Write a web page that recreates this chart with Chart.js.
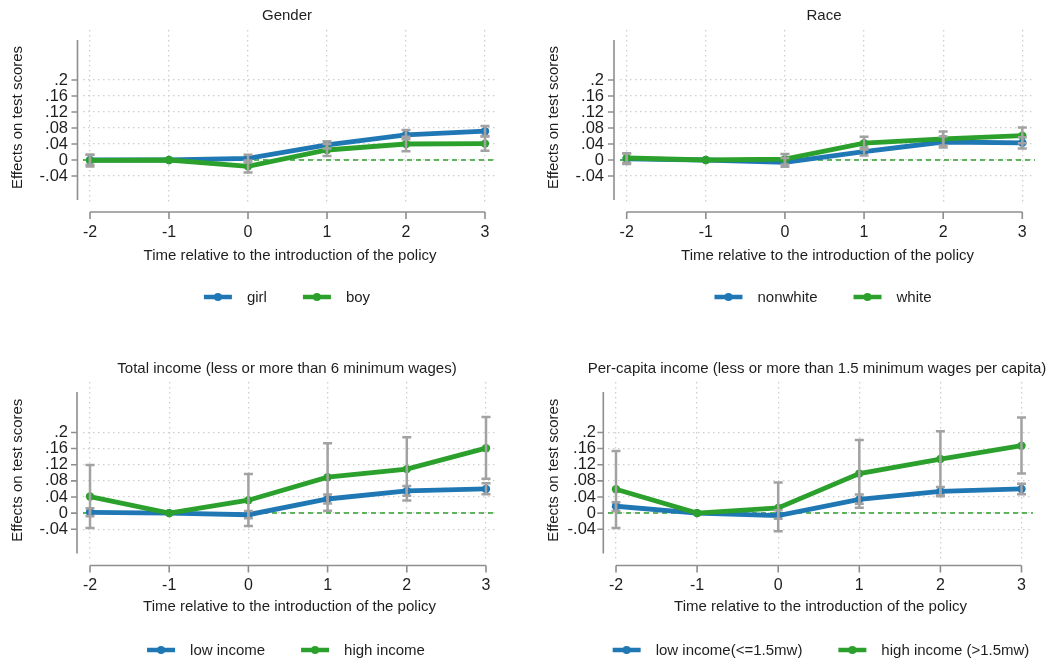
<!DOCTYPE html>
<html>
<head>
<meta charset="utf-8">
<script src="https://cdn.jsdelivr.net/npm/chart.js@4.4.1/dist/chart.umd.min.js"></script>
<style>
  html, body { margin: 0; padding: 0; background: #fff; }
  #wrap { position: relative; width: 1059px; height: 661px; overflow: hidden; }
  .panel { position: absolute; }
</style>
</head>
<body>
<div id="wrap">
  <canvas class="panel" id="c1" style="left:0px;top:0px"></canvas>
  <canvas class="panel" id="c2" style="left:530px;top:0px"></canvas>
  <canvas class="panel" id="c3" style="left:0px;top:340px"></canvas>
  <canvas class="panel" id="c4" style="left:530px;top:340px"></canvas>
</div>
<script>
// shared axes
const periods = [-2, -1, 0, 1, 2, 3];
const xTickLabels = ["-2", "-1", "0", "1", "2", "3"];
const yTickValues = [-0.04, 0, 0.04, 0.08, 0.12, 0.16, 0.2];
const yTickLabels = ["-.04", "0", ".04", ".08", ".12", ".16", ".2"];
const yAxisSpan = [-0.1, 0.3];
const xTitle = "Time relative to the introduction of the policy";
const yTitle = "Effects on test scores";

// Gender
const girlEst = [0.000, 0, 0.004, 0.038, 0.063, 0.072];
const girlLo  = [-0.012, null, -0.006, 0.029, 0.052, 0.060];
const girlHi  = [0.013, null, 0.013, 0.047, 0.075, 0.085];
const boyEst  = [-0.001, 0, -0.016, 0.025, 0.040, 0.041];
const boyLo   = [-0.016, null, -0.031, 0.010, 0.022, 0.023];
const boyHi   = [0.013, null, -0.001, 0.040, 0.058, 0.059];

// Race
const nonwhiteEst = [0.003, 0, -0.006, 0.021, 0.045, 0.043];
const nonwhiteLo  = [-0.010, null, -0.017, 0.011, 0.031, 0.029];
const nonwhiteHi  = [0.016, null, 0.005, 0.031, 0.059, 0.057];
const whiteEst    = [0.005, 0, 0.002, 0.042, 0.053, 0.061];
const whiteLo     = [-0.007, null, -0.011, 0.026, 0.036, 0.042];
const whiteHi     = [0.017, null, 0.015, 0.058, 0.071, 0.081];

// Total income
const lowIncEst  = [0.002, 0, -0.004, 0.035, 0.055, 0.060];
const lowIncLo   = [-0.008, null, -0.013, 0.024, 0.043, 0.047];
const lowIncHi   = [0.012, null, 0.005, 0.046, 0.067, 0.074];
const highIncEst = [0.041, 0, 0.032, 0.089, 0.109, 0.161];
const highIncLo  = [-0.037, null, -0.032, 0.006, 0.031, 0.085];
const highIncHi  = [0.119, null, 0.097, 0.173, 0.188, 0.238];

// Per-capita income
const lowPcEst  = [0.017, 0, -0.006, 0.034, 0.054, 0.060];
const lowPcLo   = [0.005, null, -0.014, 0.023, 0.042, 0.047];
const lowPcHi   = [0.027, null, 0.007, 0.046, 0.065, 0.073];
const highPcEst = [0.059, 0, 0.013, 0.098, 0.134, 0.167];
const highPcLo  = [-0.037, null, -0.045, 0.013, 0.044, 0.098];
const highPcHi  = [0.154, null, 0.076, 0.181, 0.203, 0.237];

const BLUE = "#1f77b4";
const GREEN = "#2ca02c";
const FAMILY = "'Liberation Sans', Arial, sans-serif";
const FONT = { family: FAMILY, size: 15 };
const XTICK_FONT = { family: FAMILY, size: 16 };
const YTICK_FONT = { family: FAMILY, size: 16.5 };
const TEXT = "#1e1e1e";

const panels = [
  {
    id: "c1", w: 529, h: 330, title: "Gender",
    series: [
      { label: "girl", color: BLUE, est: girlEst, lo: girlLo, hi: girlHi },
      { label: "boy", color: GREEN, est: boyEst, lo: boyLo, hi: boyHi },
    ],
    L: { left: 83, right: 497, top: 30, bottom: 205, xm2: 90, x3: 485, yAxisX: 77.5, xAxisY: 212,
         yTitleX: 18, yLabelRight: 68, xTickY: 233, xTitleY: 256, titleX: 287, titleY: 16, legendX: 287, legendY: 297 },
  },
  {
    id: "c2", w: 529, h: 330, title: "Race",
    series: [
      { label: "nonwhite", color: BLUE, est: nonwhiteEst, lo: nonwhiteLo, hi: nonwhiteHi },
      { label: "white", color: GREEN, est: whiteEst, lo: whiteLo, hi: whiteHi },
    ],
    L: { left: 90, right: 505, top: 30, bottom: 205, xm2: 96.7, x3: 492.3, yAxisX: 84, xAxisY: 212,
         yTitleX: 24, yLabelRight: 74, xTickY: 233, xTitleY: 256, titleX: 294, titleY: 16, legendX: 293, legendY: 297 },
  },
  {
    id: "c3", w: 529, h: 321, title: "Total income (less or more than 6 minimum wages)",
    series: [
      { label: "low income", color: BLUE, est: lowIncEst, lo: lowIncLo, hi: lowIncHi },
      { label: "high income", color: GREEN, est: highIncEst, lo: highIncLo, hi: highIncHi },
    ],
    L: { left: 83, right: 496, top: 42, bottom: 218.5, xm2: 90, x3: 486, yAxisX: 77, xAxisY: 225.5,
         yTitleX: 18, yLabelRight: 68, xTickY: 246, xTitleY: 267, titleX: 287, titleY: 29, legendX: 286, legendY: 310 },
  },
  {
    id: "c4", w: 529, h: 321, title: "Per-capita income (less or more than 1.5 minimum wages per capita)",
    series: [
      { label: "low income(<=1.5mw)", color: BLUE, est: lowPcEst, lo: lowPcLo, hi: lowPcHi },
      { label: "high income (>1.5mw)", color: GREEN, est: highPcEst, lo: highPcLo, hi: highPcHi },
    ],
    L: { left: 78, right: 503, top: 42, bottom: 218.5, xm2: 86, x3: 491.5, yAxisX: 73.3, xAxisY: 225.5,
         yTitleX: 24, yLabelRight: 66, xTickY: 246, xTitleY: 267, titleX: 287, titleY: 29, legendX: 291, legendY: 310 },
  },
];

// Stata-like frame: detached axes, zero line, CI caps, title and legend
function makeDecor(panel) {
  const L = panel.L;
  return {
    id: "stataDecor",
    beforeDatasetsDraw(chart) {
      const { ctx, chartArea: a, scales: { y } } = chart;
      const y0 = y.getPixelForValue(0);
      ctx.save();
      ctx.strokeStyle = GREEN;
      ctx.lineWidth = 1.5;
      ctx.setLineDash([5, 4]);
      ctx.beginPath();
      ctx.moveTo(a.left, y0);
      ctx.lineTo(a.right, y0);
      ctx.stroke();
      ctx.restore();
    },
    afterDatasetsDraw(chart) {
      const { ctx, scales: { x, y } } = chart;
      ctx.save();
      ctx.strokeStyle = "#a2a2a2";
      ctx.lineWidth = 2.5;
      panel.series.forEach((s) => {
        periods.forEach((p, i) => {
          if (s.lo[i] == null) return;
          const px = x.getPixelForValue(p);
          const top = y.getPixelForValue(s.hi[i]);
          const bot = y.getPixelForValue(s.lo[i]);
          ctx.beginPath();
          ctx.moveTo(px, top); ctx.lineTo(px, bot);
          ctx.moveTo(px - 4.5, top); ctx.lineTo(px + 4.5, top);
          ctx.moveTo(px - 4.5, bot); ctx.lineTo(px + 4.5, bot);
          ctx.stroke();
        });
      });
      ctx.restore();
    },
    afterDraw(chart) {
      const { ctx, scales: { x, y } } = chart;
      ctx.save();
      // axis lines
      ctx.strokeStyle = "#8e8e8e";
      ctx.lineWidth = 1.6;
      ctx.beginPath();
      ctx.moveTo(L.yAxisX, y.getPixelForValue(yAxisSpan[1]));
      ctx.lineTo(L.yAxisX, y.getPixelForValue(yAxisSpan[0]));
      yTickValues.forEach((v) => {
        const py = y.getPixelForValue(v);
        ctx.moveTo(L.yAxisX - 6, py);
        ctx.lineTo(L.yAxisX, py);
      });
      ctx.moveTo(x.getPixelForValue(periods[0]), L.xAxisY);
      ctx.lineTo(x.getPixelForValue(periods[periods.length - 1]), L.xAxisY);
      periods.forEach((p) => {
        const px = x.getPixelForValue(p);
        ctx.moveTo(px, L.xAxisY);
        ctx.lineTo(px, L.xAxisY + 7);
      });
      ctx.stroke();

      // title
      ctx.font = FONT.size + "px " + FONT.family;
      ctx.fillStyle = TEXT;
      ctx.textAlign = "center";
      ctx.textBaseline = "middle";
      ctx.fillText(panel.title, L.titleX, L.titleY);

      // legend
      const symW = 28, symGap = 15, itemGap = 36;
      const widths = panel.series.map((s) => symW + symGap + ctx.measureText(s.label).width);
      const total = widths.reduce((a, b) => a + b, 0) + itemGap * (widths.length - 1);
      let cx = L.legendX - total / 2;
      ctx.textAlign = "left";
      panel.series.forEach((s, k) => {
        ctx.strokeStyle = s.color;
        ctx.fillStyle = s.color;
        ctx.lineWidth = 4.5;
        ctx.beginPath();
        ctx.moveTo(cx, L.legendY);
        ctx.lineTo(cx + symW, L.legendY);
        ctx.stroke();
        ctx.beginPath();
        ctx.arc(cx + symW / 2, L.legendY, 4, 0, Math.PI * 2);
        ctx.fill();
        ctx.fillStyle = TEXT;
        ctx.fillText(s.label, cx + symW + symGap, L.legendY + 1);
        cx += widths[k] + itemGap;
      });
      ctx.restore();
    },
  };
}

function buildChart(panel) {
  const L = panel.L;
  const canvas = document.getElementById(panel.id);
  canvas.width = panel.w;
  canvas.height = panel.h;
  const ppu = (L.x3 - L.xm2) / 5;
  const xMin = periods[0] - (L.xm2 - L.left) / ppu;
  const xMax = periods[periods.length - 1] + (L.right - L.x3) / ppu;
  const gridStyle = { color: "#cfcfcf", lineWidth: 1.3, drawTicks: false };
  const gridBorder = { display: false, dash: [1.5, 3.5] };

  return new Chart(canvas, {
    type: "line",
    data: {
      datasets: panel.series.map((s, k) => ({
        label: s.label,
        data: periods.map((p, i) => ({ x: p, y: s.est[i] })),
        borderColor: s.color,
        backgroundColor: s.color,
        borderWidth: 4.8,
        pointRadius: 4.2,
        pointHoverRadius: 4.2,
        pointBorderWidth: 0,
        tension: 0,
        order: panel.series.length - k,
      })),
    },
    options: {
      responsive: false,
      animation: false,
      events: [],
      layout: {
        padding: {
          left: L.yTitleX - 9,
          top: L.top,
          right: panel.w - L.right,
          bottom: panel.h - (L.xTitleY + 9),
        },
      },
      scales: {
        x: {
          type: "linear",
          min: xMin,
          max: xMax,
          afterBuildTicks: (s) => { s.ticks = periods.map((v) => ({ value: v })); },
          afterFit: (s) => { s.height = L.xTitleY + 9 - L.bottom; },
          grid: gridStyle,
          border: gridBorder,
          ticks: {
            padding: L.xTickY - L.bottom - XTICK_FONT.size * 0.6,
            font: XTICK_FONT,
            color: TEXT,
            maxRotation: 0,
            callback: (v, i) => xTickLabels[i],
          },
          title: { display: true, text: xTitle, font: FONT, color: TEXT, padding: 0 },
        },
        y: {
          type: "linear",
          min: -0.1125,
          max: 0.325,
          afterBuildTicks: (s) => { s.ticks = yTickValues.map((v) => ({ value: v })); },
          afterFit: (s) => { s.width = L.left - (L.yTitleX - 9); },
          grid: gridStyle,
          border: gridBorder,
          ticks: {
            padding: L.left - L.yLabelRight,
            font: YTICK_FONT,
            color: TEXT,
            callback: (v, i) => yTickLabels[i],
          },
          title: { display: true, text: yTitle, font: FONT, color: TEXT, padding: 0 },
        },
      },
      plugins: {
        legend: { display: false },
        title: { display: false },
        tooltip: { enabled: false },
      },
    },
    plugins: [makeDecor(panel)],
  });
}

panels.forEach(buildChart);
</script>
</body>
</html>
